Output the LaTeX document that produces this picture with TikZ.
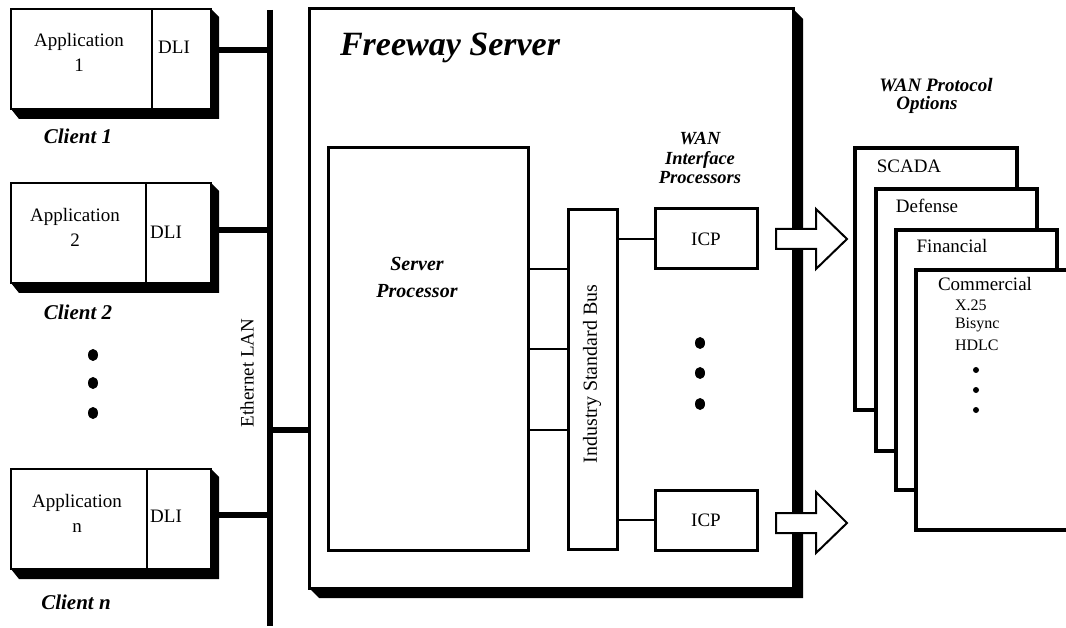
\documentclass[tikz,border=0pt]{standalone}
\usepackage{fontspec}
\setmainfont{Liberation Serif}
\begin{document}
\begin{tikzpicture}[x=1pt,y=-1pt,
  every node/.style={inner sep=0pt, outer sep=0pt},
  txt/.style={font=\fontsize{19}{25}\selectfont, align=center},
  small/.style={font=\fontsize{16}{19}\selectfont, anchor=west},
  bi/.style={font=\fontsize{20}{27}\selectfont\bfseries\itshape, align=center},
  clientbox/.style={draw, line width=2pt, fill=white, minimum width=200pt, minimum height=100pt},
  divider/.style={line width=1.5pt},
  lanline/.style={line width=6pt},
  lanconn/.style={line width=5.5pt},
  thinconn/.style={line width=1.5pt},
  innerbox/.style={draw, line width=3pt, fill=white},
  icpbox/.style={draw, line width=3pt, fill=white, minimum width=102pt, minimum height=60pt},
  protobox/.style={draw, line width=4pt, fill=white, anchor=north west},
  blockarrow/.style={draw, line width=2pt, fill=white, line join=miter},
]
\useasboundingbox (0,0) rectangle (1066,628);

% ---------------- LAN ----------------
\coordinate (lantop) at (270,10);
\coordinate (lanbot) at (270,626);
\draw[lanline] (lantop) -- (lanbot);
\node[txt, rotate=90] (lanlbl) at (247,373) {Ethernet LAN};

% ---------------- Clients ----------------
\foreach \n/\cy/\dx in {c1/59/152, c2/233/146, cn/519/147}{
  \node[clientbox] (\n) at (111,\cy) {};
  \fill (\n.north east) -- ++(8,8) -- ([shift={(8,10)}]\n.south east)
        -- ([shift={(8,10)}]\n.south west) -- (\n.south west) -- cycle;
  \node[clientbox] at (111,\cy) {};
  \draw[divider] (\n.north -| \dx,0) -- (\n.south -| \dx,0);
}
\node[txt] (a1) at (79,52) {Application\\1};
\node[txt] (d1) at (174,47) {DLI};
\node[bi, font=\fontsize{21}{27}\selectfont\bfseries\itshape] (l1) at (78,136) {Client 1};
\node[txt] (a2) at (75,227) {Application\\2};
\node[txt] (d2) at (166,232) {DLI};
\node[bi, font=\fontsize{21}{27}\selectfont\bfseries\itshape] (l2) at (78,312) {Client 2};
\node[txt] (an) at (77,513) {Application\\n};
\node[txt] (dn) at (166,516) {DLI};
\node[bi, font=\fontsize{21}{27}\selectfont\bfseries\itshape] (ln) at (76,602) {Client n};

\foreach \yy in {355,383,413} \fill (93,\yy) ellipse [x radius=5, y radius=6];

\coordinate (j1) at (270,50);
\coordinate (j2) at (270,230);
\coordinate (jn) at (270,515);
\coordinate (js) at (270,430);
\draw[lanconn] (c1.east |- j1) -- (j1);
\draw[lanconn] (c2.east |- j2) -- (j2);
\draw[lanconn] (cn.east |- jn) -- (jn);

% ---------------- Server ----------------
\node[draw, line width=3pt, fill=white, minimum width=484pt, minimum height=579pt] (server) at (551,298.5) {};
\fill (server.north east) -- ++(10,10) -- ([shift={(10,10)}]server.south east)
      -- ([shift={(10,10)}]server.south west) -- (server.south west) -- cycle;
\node[draw, line width=3pt, fill=white, minimum width=484pt, minimum height=579pt] at (551,298.5) {};
\draw[lanconn] (js) -- (js -| server.west);
\node[font=\fontsize{34}{36}\selectfont\bfseries\itshape] (title) at (450,48) {Freeway Server};

\node[innerbox, minimum width=200pt, minimum height=402pt] (sp) at (428,349) {};
\node[bi] (splbl) at (417,277) {Server\\Processor};

\node[innerbox, minimum width=49pt, minimum height=339pt] (bus) at (592.5,379.5) {};
\node[font=\fontsize{20}{22}\selectfont, rotate=90] (buslbl) at (592,374) {Industry Standard Bus};
\foreach \yy in {269,349,430} \draw[thinconn] (sp.east |- 0,\yy) -- (bus.west |- 0,\yy);

\node[bi, font=\fontsize{18.5}{19.5}\selectfont\bfseries\itshape] (wanip) at (700,158) {WAN\\Interface\\Processors};

\node[icpbox] (icp1) at (706,239) {};
\node[txt] at (icp1) {ICP};
\node[icpbox] (icp2) at (706,520) {};
\node[txt] at (icp2) {ICP};
\draw[thinconn] (bus.east |- icp1.west) -- (icp1.west);
\draw[thinconn] (bus.east |- icp2.west) -- (icp2.west);
\foreach \yy in {343,373,404} \fill (700,\yy) ellipse [x radius=5, y radius=6];

\draw[blockarrow, shift={(icp1.east)}] (19,-10) -- (59,-10) -- (59,-30) -- (90,0) -- (59,30) -- (59,10) -- (19,10) -- cycle;
\draw[blockarrow, shift={(icp2.east)}] (19,-7) -- (59,-7) -- (59,-28) -- (90,3) -- (59,33) -- (59,13) -- (19,13) -- cycle;

% ---------------- WAN protocol options ----------------
\node[bi, font=\fontsize{19}{20}\selectfont\bfseries\itshape] (wpo1) at (936,85) {WAN Protocol};
\node[bi, font=\fontsize{19}{20}\selectfont\bfseries\itshape] (wpo2) at (927,105) {Options};

\node[protobox, minimum width=162pt, minimum height=262pt] (scada) at (855,148) {};
\node[txt] at (909,166) {SCADA};
\node[protobox, minimum width=161pt, minimum height=262pt] (defense) at (876,189) {};
\node[txt] at (927,206) {Defense};
\node[protobox, minimum width=161pt, minimum height=260pt] (financial) at (896,230) {};
\node[txt] at (952,246) {Financial};
\node[protobox, minimum width=170pt, minimum height=260pt] (commercial) at (916,270) {};
\node[txt] at (985,284) {Commercial};
\node[small] (x25) at (955,305) {X.25};
\node[small] (bisync) at (955,325) {Bisync};
\node[small] (hdlc) at (955,345) {HDLC};
\foreach \yy in {370,390,410} \fill (976,\yy) circle [radius=3];
\end{tikzpicture}
\end{document}
